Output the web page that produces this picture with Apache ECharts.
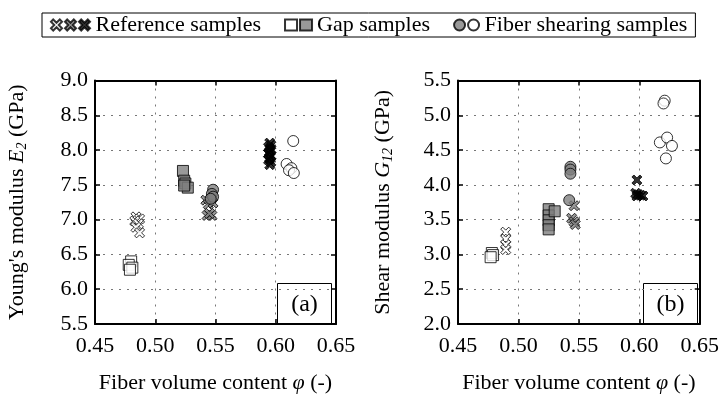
<!DOCTYPE html>
<html><head><meta charset="utf-8">
<script src="https://cdn.jsdelivr.net/npm/echarts@6/dist/echarts.min.js"></script>
<style>html,body{margin:0;padding:0;background:#fff}#c{width:722px;height:399px}</style>
</head><body><div id="c"></div>
<script>
// ---- data ----
const xTicks = [0.45, 0.50, 0.55, 0.60, 0.65];
const e2Ticks = [5.5, 6.0, 6.5, 7.0, 7.5, 8.0, 8.5, 9.0];
const g12Ticks = [2.0, 2.5, 3.0, 3.5, 4.0, 4.5, 5.0, 5.5];

// Young's modulus E2 (GPa)
const refWhiteE = [[0.484,7.04],[0.487,7.01],[0.483,6.98],[0.486,6.94],[0.484,6.89],[0.487,6.81]];
const refGrayE = [[0.542,7.28],[0.546,7.29],[0.544,7.22],[0.548,7.24],[0.543,7.06],[0.547,7.06],[0.545,7.09]];
const refBlackE = [[0.595,8.10],[0.596,8.07],[0.594,8.04],[0.596,8.01],[0.595,7.98],[0.594,7.95],[0.596,7.92],[0.595,7.89],[0.594,7.86],[0.596,7.83],[0.595,7.79]];
const gapWhiteE = [[0.480,6.40],[0.478,6.35],[0.481,6.31],[0.479,6.28]];
const gapGrayE = [[0.523,7.70],[0.524,7.56],[0.525,7.52],[0.527,7.46],[0.524,7.49]];
const fsGrayE = [[0.548,7.43],[0.547,7.37],[0.548,7.33],[0.546,7.30]];
const fsWhiteE = [[0.6145,8.13],[0.609,7.80],[0.613,7.74],[0.611,7.71],[0.615,7.67]];

// Shear modulus G12 (GPa)
const refWhiteG = [[0.4895,3.32],[0.4895,3.22],[0.4895,3.14],[0.4895,3.07]];
const refGrayG = [[0.546,3.70],[0.544,3.52],[0.546,3.47],[0.547,3.43]];
const refBlackG = [[0.598,4.07],[0.597,3.88],[0.599,3.86],[0.601,3.85],[0.603,3.84],[0.598,3.84]];
const gapWhiteG = [[0.478,3.02],[0.479,2.99],[0.477,2.96]];
const gapGrayG = [[0.525,3.65],[0.525,3.56],[0.525,3.49],[0.525,3.42],[0.525,3.36],[0.530,3.62]];
const fsGrayG = [[0.543,4.26],[0.543,4.22],[0.543,4.16],[0.542,3.78]];
const fsWhiteG = [[0.621,5.21],[0.620,5.17],[0.617,4.61],[0.623,4.68],[0.627,4.56],[0.622,4.38]];

const legendLabels = {r3: 'Reference samples', g2: 'Gap samples', f2: 'Fiber shearing samples'};

// ---- chart ----
const FONT = '"Liberation Serif", "Times New Roman", serif';
const FS = 22;
const X_PATH = 'path://M2,0 L5,3 L8,0 L10,2 L7,5 L10,8 L8,10 L5,7 L2,10 L0,8 L3,5 L0,2 Z';
const chart = echarts.init(document.getElementById('c'), null, {renderer: 'canvas'});

const grids = [
  {left: 95, right: 386, top: 80.5, bottom: 70},
  {left: 458, right: 21, top: 80.5, bottom: 70}
];
const richBase = {
  n: {fontFamily: FONT, fontSize: FS, color: '#000'},
  i: {fontFamily: FONT, fontSize: FS, fontStyle: 'italic', color: '#000'},
  s: {fontFamily: FONT, fontSize: 14, fontStyle: 'italic', color: '#000', padding: [10, 0, 0, 0]}
};

function xAxes(gi) {
  const base = {
    gridIndex: gi, type: 'value', min: xTicks[0], max: xTicks[xTicks.length - 1], interval: 0.05,
    axisLine: {show: true, onZero: false, lineStyle: {color: '#000', width: 2}},
    axisTick: {show: true, inside: true, length: 5, lineStyle: {color: '#000', width: 1.5}}
  };
  return [
    Object.assign({}, base, {
      position: 'bottom',
      name: '{n|Fiber volume content }{i|φ}{n| (-)}', nameLocation: 'middle', nameGap: 48,
      nameTextStyle: {rich: richBase},
      axisLabel: {show: true, margin: 11, fontFamily: FONT, fontSize: FS, color: '#000', formatter: v => v.toFixed(2)},
      splitLine: {show: true, lineStyle: {color: '#777', type: [2, 6], width: 1}}
    }),
    Object.assign({}, base, {position: 'top', axisLabel: {show: false}, splitLine: {show: false}})
  ];
}
function yAxes(gi, ticks, nameRich, gap) {
  const base = {
    gridIndex: gi, type: 'value', min: ticks[0], max: ticks[ticks.length - 1], interval: 0.5,
    axisLine: {show: true, onZero: false, lineStyle: {color: '#000', width: 2}},
    axisTick: {show: true, inside: true, length: 5, lineStyle: {color: '#000', width: 1.5}}
  };
  return [
    Object.assign({}, base, {
      position: 'left',
      name: nameRich, nameLocation: 'middle', nameGap: gap,
      nameTextStyle: {rich: richBase},
      axisLabel: {show: true, margin: 7, fontFamily: FONT, fontSize: FS, color: '#000', formatter: v => v.toFixed(1)},
      splitLine: {show: true, lineStyle: {color: '#777', type: [2, 6], width: 1}}
    }),
    Object.assign({}, base, {position: 'right', axisLabel: {show: false}, splitLine: {show: false}})
  ];
}

const xAxis = [...xAxes(0), ...xAxes(1)];
const yAxis = [
  ...yAxes(0, e2Ticks, "{n|Young's modulus }{i|E}{s|2}{n| (GPa)}", 66),
  ...yAxes(1, g12Ticks, '{n|Shear modulus }{i|G}{s|12}{n| (GPa)}', 63)
];

const styles = {
  r1: {symbol: X_PATH, size: 10, color: '#fff'},
  r2: {symbol: X_PATH, size: 10, color: '#808080'},
  r3: {symbol: X_PATH, size: 10, color: '#000'},
  g1: {symbol: 'rect', size: 11, color: '#fff'},
  g2: {symbol: 'rect', size: 11, color: '#808080'},
  f1: {symbol: 'circle', size: 11, color: '#808080'},
  f2: {symbol: 'circle', size: 11, color: '#fff'}
};
const dataE = {r1: refWhiteE, r2: refGrayE, r3: refBlackE, g1: gapWhiteE, g2: gapGrayE, f1: fsGrayE, f2: fsWhiteE};
const dataG = {r1: refWhiteG, r2: refGrayG, r3: refBlackG, g1: gapWhiteG, g2: gapGrayG, f1: fsGrayG, f2: fsWhiteG};

const series = [];
[[dataE, 0, 0], [dataG, 2, 2]].forEach(([d, xi, yi]) => {
  Object.keys(styles).forEach(k => {
    const s = styles[k];
    series.push({
      name: k, type: 'scatter', xAxisIndex: xi, yAxisIndex: yi,
      symbol: s.symbol, symbolSize: s.size,
      itemStyle: {color: s.color, borderColor: '#000', borderWidth: 1},
      data: d[k]
    });
  });
});

function labelBox(x, y, t) {
  return {
    type: 'group', left: x, top: y,
    children: [
      {type: 'rect', shape: {x: 0, y: 0, width: 54, height: 41}, style: {fill: '#fff', stroke: '#000', lineWidth: 1}},
      {type: 'text', x: 27, y: 21, style: {text: t, font: '24px "Liberation Serif"', fill: '#000', textAlign: 'center', textVerticalAlign: 'middle'}}
    ]
  };
}

chart.setOption({
  animation: false,
  grid: grids,
  xAxis: xAxis,
  yAxis: yAxis,
  legend: {
    left: 42, top: 13, padding: [1, 8, 1, 8], itemGap: 1, itemWidth: 12, itemHeight: 11,
    borderColor: '#000', borderWidth: 1,
    data: ['r1', 'r2', 'r3', 'g1', 'g2', 'f1', 'f2'],
    formatter: n => legendLabels[n] ? (n === 'f2' ? legendLabels[n] : legendLabels[n] + '    ') : '',
    textStyle: {fontFamily: FONT, fontSize: FS, color: '#000'},
    selectedMode: false
  },
  graphic: [labelBox(277, 283, '(a)'), labelBox(643, 283, '(b)')],
  series: series
});
</script>
</body></html>
